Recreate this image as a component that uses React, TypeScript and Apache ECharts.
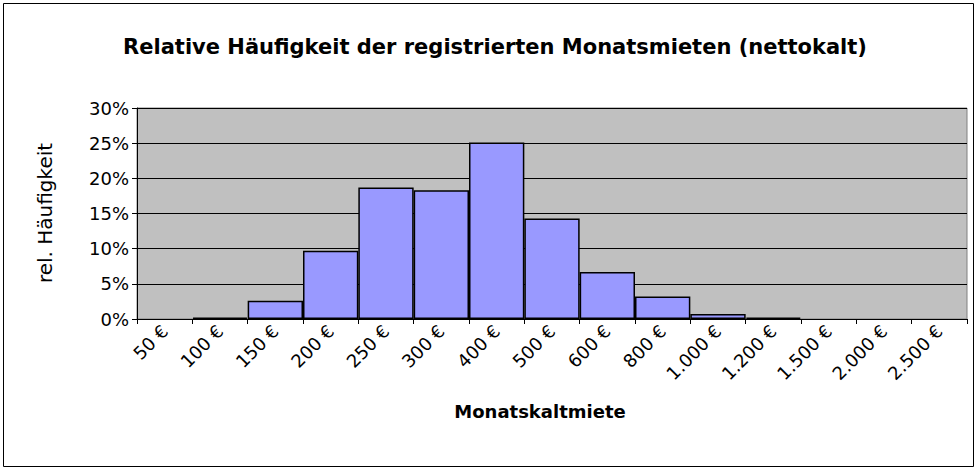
import React, { useEffect, useRef } from "react";
import * as echarts from "echarts";

const categories = ["50 €", "100 €", "150 €", "200 €", "250 €", "300 €", "400 €", "500 €", "600 €", "800 €", "1.000 €", "1.200 €", "1.500 €", "2.000 €", "2.500 €"];
const relFrequency: (number | null)[] = [null, 0.2, 2.6, 9.7, 18.7, 18.3, 25.1, 14.3, 6.7, 3.2, 0.7, 0.2, null, null, null];
const titleText = "Relative Häufigkeit der registrierten Monatsmieten (nettokalt)";
const xAxisTitle = "Monatskaltmiete";
const yAxisTitle = "rel. Häufigkeit";

export default function App() {
  const ref = useRef<HTMLDivElement>(null);
  useEffect(() => {
    document.body.style.margin = "0";
    const chart = echarts.init(ref.current!, null, { renderer: "svg" });
    chart.setOption({
      animation: false,
      backgroundColor: "#ffffff",
      textStyle: { fontFamily: "DejaVu Sans" },
      grid: {
        left: 137,
        right: 10,
        top: 108,
        bottom: 153,
        show: true,
        backgroundColor: "#C0C0C0",
        borderColor: "#808080",
        borderWidth: 1,
      },
      graphic: [
        {
          type: "rect",
          shape: { x: 3.5, y: 3.5, width: 970, height: 463 },
          style: { fill: "none", stroke: "#000", lineWidth: 1 },
          silent: true,
        },
        {
          type: "text",
          x: 495,
          y: 47,
          style: {
            text: titleText,
            font: "bold 21px 'DejaVu Sans'",
            fill: "#000",
            textAlign: "center",
            textVerticalAlign: "middle",
          },
        },
        {
          type: "text",
          x: 540,
          y: 411,
          style: {
            text: xAxisTitle,
            font: "bold 18px 'DejaVu Sans'",
            fill: "#000",
            textAlign: "center",
            textVerticalAlign: "middle",
          },
        },
        {
          type: "text",
          x: 45,
          y: 213,
          rotation: Math.PI / 2,
          style: {
            text: yAxisTitle,
            font: "20px 'DejaVu Sans'",
            fill: "#000",
            textAlign: "center",
            textVerticalAlign: "middle",
          },
        },
      ],
      xAxis: {
        type: "category",
        data: categories,
        boundaryGap: true,
        axisLine: { show: true, lineStyle: { color: "#000", width: 1 } },
        axisTick: { show: true, alignWithLabel: false, length: 5, lineStyle: { color: "#000" } },
        axisLabel: {
          rotate: 45,
          interval: 0,
          margin: 9,
          fontSize: 18,
          color: "#000",
          fontFamily: "DejaVu Sans",
        },
        splitLine: { show: false },
      },
      yAxis: {
        type: "value",
        min: 0,
        max: 30,
        interval: 5,
        axisLine: { show: true, lineStyle: { color: "#000", width: 1 } },
        axisTick: { show: true, length: 5, lineStyle: { color: "#000" } },
        axisLabel: {
          formatter: "{value}%",
          fontSize: 18,
          margin: 8,
          color: "#000",
          fontFamily: "DejaVu Sans",
        },
        splitLine: { show: true, lineStyle: { color: "#000", width: 1 } },
      },
      series: [
        {
          type: "bar",
          data: relFrequency,
          barCategoryGap: 0,
          itemStyle: { color: "#9999FF", borderColor: "#000", borderWidth: 1.5 },
        },
      ],
    });
    return () => chart.dispose();
  }, []);
  return <div ref={ref} style={{ width: 977, height: 472 }} />;
}
